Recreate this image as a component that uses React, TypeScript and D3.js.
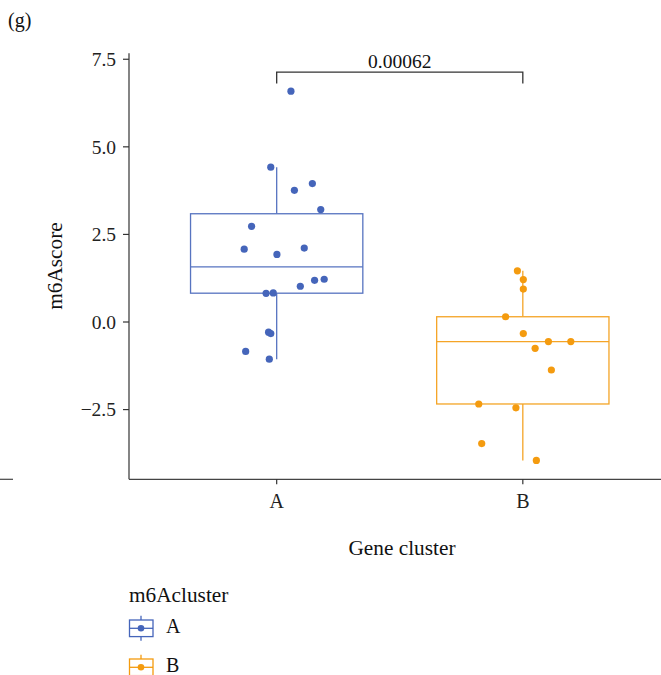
import React from "react";
import * as d3 from "d3";

const categories = ["A", "B"];
const valuesA = [6.59, 4.42, 3.76, 3.95, 3.21, 2.73, 2.08, 1.93, 2.11, 1.02, 1.19, 1.22, 0.82, 0.83, -0.29, -0.33, -0.84, -1.06];
const jitterA = [0.058, -0.024, 0.072, 0.145, 0.179, -0.102, -0.132, 0.001, 0.112, 0.096, 0.154, 0.193, -0.043, -0.014, -0.033, -0.024, -0.126, -0.03];
const valuesB = [1.46, 1.21, 0.94, 0.15, -0.33, -0.56, -0.56, -0.75, -1.37, -2.34, -2.45, -3.47, -3.95];
const jitterB = [-0.022, 0.002, 0.002, -0.07, 0.002, 0.104, 0.195, 0.05, 0.116, -0.179, -0.028, -0.167, 0.055];
const yTicks = [-2.5, 0, 2.5, 5, 7.5];
const pValue = "0.00062";
const bracketTop = 7.13;
const bracketBottom = 6.81;

const colors: Record<string, string> = { A: "#4565BA", B: "#F49B0F" };
const FONT = "'Liberation Serif', 'DejaVu Serif', serif";

function stats(vals: number[]) {
  const s = [...vals].sort((a, b) => a - b);
  const q1 = d3.quantile(s, 0.25)!;
  const med = d3.quantile(s, 0.5)!;
  const q3 = d3.quantile(s, 0.75)!;
  const iqr = q3 - q1;
  const lo = d3.min(s.filter((v) => v >= q1 - 1.5 * iqr))!;
  const hi = d3.max(s.filter((v) => v <= q3 + 1.5 * iqr))!;
  return { q1, med, q3, lo, hi };
}

export default function App() {
  const W = 661, H = 675;
  const left = 129, right = 670.5, top = 53.3, bottom = 479.3;
  const x = d3.scalePoint<string>().domain(categories).range([left, right]).padding(0.6);
  const step = x.step();
  const y = d3.scaleLinear().domain([-4.49, 7.67]).range([bottom, top]);
  const boxW = step * 0.7;
  const groups = [
    { key: "A", vals: valuesA, jit: jitterA },
    { key: "B", vals: valuesB, jit: jitterB },
  ];
  const fs = 19.5;
  const fw = 21.3;
  return (
    <svg width={W} height={H} style={{ position: "absolute", left: 0, top: 0, background: "#fff" }} fontFamily={FONT}>
      <text x={8} y={27} fontSize={20} fill="#111">(g)</text>
      {/* neighbouring panel stub */}
      <line x1={0} x2={13} y1={bottom} y2={bottom} stroke="#444" strokeWidth={1.2} />
      {/* boxes */}
      {groups.map((g) => {
        const st = stats(g.vals);
        const cx = x(g.key)!;
        const c = colors[g.key];
        return (
          <g key={g.key} stroke={c} fill="none" strokeWidth={1.3} opacity={0.9}>
            <line x1={cx} x2={cx} y1={y(st.hi)} y2={y(st.q3)} />
            <line x1={cx} x2={cx} y1={y(st.q1)} y2={y(st.lo)} />
            <rect x={cx - boxW / 2} y={y(st.q3)} width={boxW} height={y(st.q1) - y(st.q3)} fill="#fff" />
            <line x1={cx - boxW / 2} x2={cx + boxW / 2} y1={y(st.med)} y2={y(st.med)} />
          </g>
        );
      })}
      {/* points */}
      {groups.map((g) =>
        g.vals.map((v, i) => (
          <circle key={g.key + i} cx={x(g.key)! + g.jit[i] * step} cy={y(v)} r={3.6} fill={colors[g.key]} />
        ))
      )}
      {/* axes */}
      <line x1={left} x2={left} y1={top} y2={bottom} stroke="#333" strokeWidth={1.2} />
      <line x1={left} x2={W} y1={bottom} y2={bottom} stroke="#444" strokeWidth={1.2} />
      {yTicks.map((t) => (
        <g key={t}>
          <line x1={left - 6} x2={left} y1={y(t)} y2={y(t)} stroke="#333" strokeWidth={1.2} />
          <text x={left - 13} y={y(t)} dy="0.35em" textAnchor="end" fontSize={fs} fill="#222">
            {t < 0 ? "\u2212" + Math.abs(t).toFixed(1) : t.toFixed(1)}
          </text>
        </g>
      ))}
      {categories.map((c) => (
        <g key={c}>
          <line x1={x(c)!} x2={x(c)!} y1={bottom} y2={bottom + 5} stroke="#333" strokeWidth={1.2} />
          <text x={x(c)!} y={bottom + 29} textAnchor="middle" fontSize={20} fill="#222">{c}</text>
        </g>
      ))}
      <text x={402} y={555} textAnchor="middle" fontSize={fw} fill="#111">Gene cluster</text>
      <text transform={`translate(62,266) rotate(-90)`} textAnchor="middle" fontSize={fw} fill="#111">m6Ascore</text>
      {/* significance bracket */}
      <path
        d={`M${x("A")},${y(bracketBottom)}V${y(bracketTop)}H${x("B")}V${y(bracketBottom)}`}
        fill="none" stroke="#333" strokeWidth={1.3}
      />
      <text x={(x("A")! + x("B")!) / 2} y={y(bracketTop) - 4.5} textAnchor="middle" fontSize={fs} fill="#111">{pValue}</text>
      {/* legend */}
      <text x={129} y={602} fontSize={fw} fill="#111">m6Acluster</text>
      {categories.map((c, i) => {
        const cy = 628.3 + i * 39;
        const col = colors[c];
        return (
          <g key={c}>
            <g stroke={col} strokeWidth={1.3} fill="none">
              <line x1={141} x2={141} y1={cy - 12.5} y2={cy + 12.5} />
              <rect x={129.5} y={cy - 8.3} width={23.5} height={16.6} fill="#fff" />
              <line x1={129.5} x2={153} y1={cy} y2={cy} />
            </g>
            <circle cx={141} cy={cy} r={3.3} fill={col} />
            <text x={166} y={cy + 5} fontSize={20} fill="#111">{c}</text>
          </g>
        );
      })}
    </svg>
  );
}
